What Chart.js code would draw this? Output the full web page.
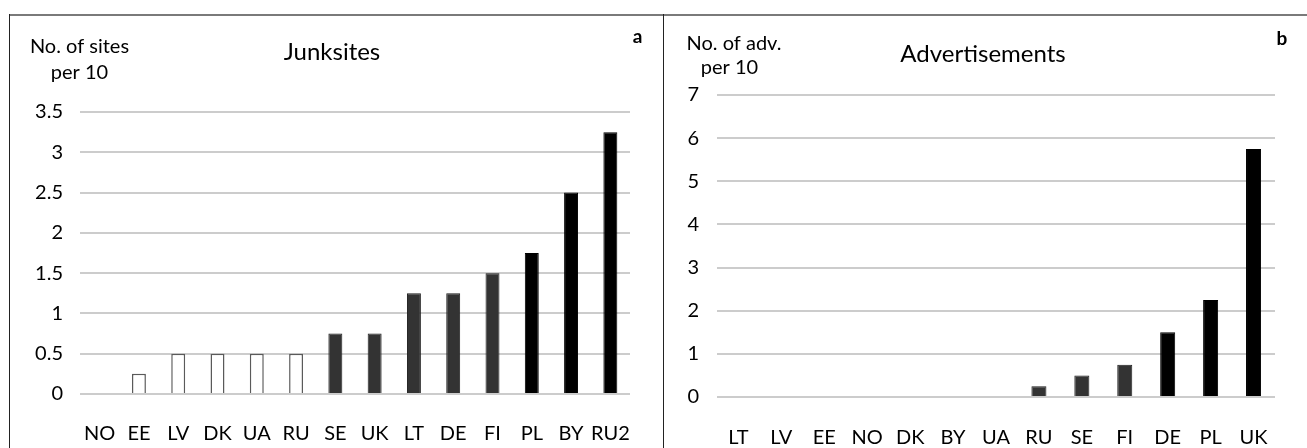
<!DOCTYPE html>
<html>
<head>
<meta charset="utf-8">
<script src="https://cdn.jsdelivr.net/npm/chart.js@4.4.1/dist/chart.umd.min.js"></script>
<style>
  html, body { margin: 0; padding: 0; background: #fff; }
  body { width: 1307px; height: 448px; position: relative; overflow: hidden; }
  .line { position: absolute; }
  #topLine { left: 9px; top: 14px; width: 1298px; height: 0; border-top: 2px solid #7a7a7a; }
  #leftLine { left: 9px; top: 14px; width: 0; height: 434px; border-left: 1px solid #222; }
  #midLine { left: 663px; top: 14px; width: 0; height: 434px; border-left: 1px solid #222; }
  canvas { position: absolute; }
  #junk { left: 10px; top: 15px; }
  #adv { left: 664px; top: 15px; }
</style>
</head>
<body>
<div class="line" id="topLine"></div>
<div class="line" id="leftLine"></div>
<div class="line" id="midLine"></div>
<canvas id="junk" width="652" height="433"></canvas>
<canvas id="adv" width="643" height="433"></canvas>
<script>
// panel a: junksites per 10
const junkCountries = ["NO", "EE", "LV", "DK", "UA", "RU", "SE", "UK", "LT", "DE", "FI", "PL", "BY", "RU2"];
const junkValues = [0, 0.25, 0.5, 0.5, 0.5, 0.5, 0.75, 0.75, 1.25, 1.25, 1.5, 1.75, 2.5, 3.25];
const junkGroups = ["low", "low", "low", "low", "low", "low", "mid", "mid", "mid", "mid", "mid", "high", "high", "high"];
const junkTicks = [0, 0.5, 1, 1.5, 2, 2.5, 3, 3.5];

// panel b: advertisements per 10
const advCountries = ["LT", "LV", "EE", "NO", "DK", "BY", "UA", "RU", "SE", "FI", "DE", "PL", "UK"];
const advValues = [0, 0, 0, 0, 0, 0, 0, 0.25, 0.5, 0.75, 1.5, 2.25, 5.75];
const advGroups = ["mid", "mid", "mid", "mid", "mid", "mid", "mid", "mid", "mid", "mid", "high", "high", "high"];
const advTicks = [0, 1, 2, 3, 4, 5, 6, 7];

const FONT = "Lato, 'Open Sans', sans-serif";
const fill = { low: "#ffffff", mid: "#333333", high: "#000000" };
const edge = { low: "#5a5a5a", mid: "#1e1e1e", high: "#000000" };

// draws the titles and the small axis notes
const notesPlugin = {
  id: "notes",
  afterDraw(chart, args, opts) {
    const ctx = chart.ctx;
    ctx.save();
    ctx.fillStyle = "#000";
    ctx.textAlign = "center";
    ctx.textBaseline = "alphabetic";
    for (const t of opts.items) {
      ctx.font = t.font;
      ctx.fillText(t.text, t.x, t.y);
    }
    ctx.restore();
  }
};

function makeChart(id, labels, values, groups, ticks, pad, yWidth, xHeight, barPct, notes) {
  return new Chart(document.getElementById(id), {
    type: "bar",
    data: {
      labels: labels,
      datasets: [{
        data: values,
        backgroundColor: groups.map(g => fill[g]),
        borderColor: groups.map(g => edge[g]),
        borderWidth: groups.map(g => g === "low" ? 1.5 : 1),
        borderSkipped: "bottom",
        categoryPercentage: 1,
        barPercentage: barPct
      }]
    },
    options: {
      responsive: false,
      animation: false,
      layout: { padding: pad },
      plugins: {
        legend: { display: false },
        tooltip: { enabled: false },
        title: { display: false },
        notes: { items: notes }
      },
      scales: {
        x: {
          grid: { display: false },
          border: { display: false },
          ticks: { color: "#000", font: { family: FONT, size: 20 }, padding: xHeight.pad, maxRotation: 0, autoSkip: false },
          afterFit: (axis) => { axis.height = xHeight.h; }
        },
        y: {
          min: ticks[0],
          max: ticks[ticks.length - 1],
          grid: { color: "#cccccc", lineWidth: 2, drawTicks: false },
          border: { display: false },
          ticks: {
            color: "#000",
            font: { family: FONT, size: 20 },
            padding: yWidth.pad,
            callback: (v) => String(v)
          },
          afterBuildTicks: (axis) => { axis.ticks = ticks.map(v => ({ value: v })); },
          afterFit: (axis) => { axis.width = yWidth.w; }
        }
      }
    },
    plugins: [notesPlugin]
  });
}

makeChart("junk", junkCountries, junkValues, junkGroups, junkTicks,
  { top: 97, right: 32, bottom: 0, left: 0 },
  { w: 70, pad: 17 }, { h: 54, pad: 20 }, 0.355,
  [
    { text: "Junksites", x: 322, y: 45, font: "24px " + FONT },
    { text: "No. of sites", x: 69.5, y: 38, font: "20px " + FONT },
    { text: "per 10", x: 69.5, y: 64, font: "20px " + FONT },
    { text: "a", x: 627.5, y: 28, font: "bold 19px " + FONT }
  ]);

makeChart("adv", advCountries, advValues, advGroups, advTicks,
  { top: 80, right: 32, bottom: 0, left: 0 },
  { w: 53, pad: 18 }, { h: 51, pad: 21 }, 0.35,
  [
    { text: "Advertisements", x: 319, y: 47, font: "24px " + FONT },
    { text: "No. of adv.", x: 70, y: 35, font: "20px " + FONT },
    { text: "per 10", x: 65.5, y: 59, font: "20px " + FONT },
    { text: "b", x: 618, y: 30, font: "bold 19px " + FONT }
  ]);
</script>
</body>
</html>
